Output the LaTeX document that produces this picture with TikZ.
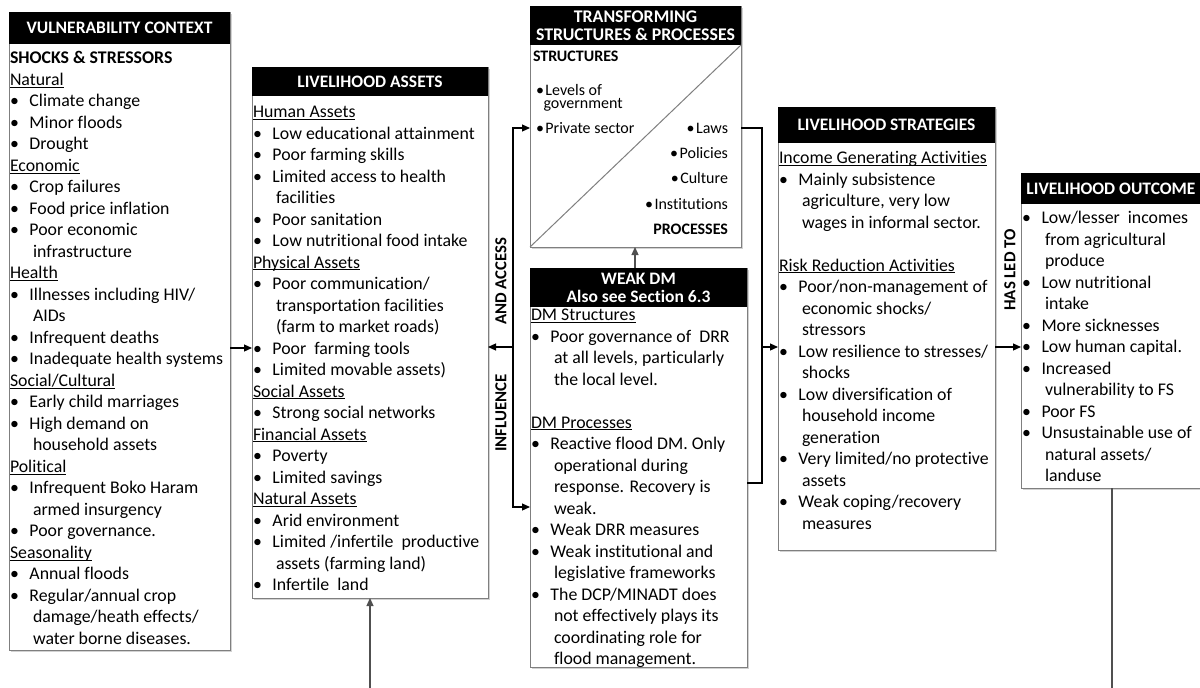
\documentclass[tikz,border=0pt]{standalone}
\usepackage{fontspec}
\setmainfont{Carlito}[Ligatures=NoCommon]
\usetikzlibrary{arrows.meta,shadows}
\definecolor{bordergray}{HTML}{7F7F7F}
\definecolor{linegray}{HTML}{505050}
\newcommand{\bodyfont}{\fontsize{17.8}{21.5}\selectfont}
\newcommand{\hdrfont}{\fontsize{17.5}{18}\selectfont\bfseries}
\newcommand{\midhdrfont}{\fontsize{17.8}{18}\selectfont\bfseries}
\newcommand{\smfont}{\fontsize{16}{13.5}\selectfont}
\newcommand{\lblfont}{\fontsize{16.8}{18}\selectfont\bfseries}
\newcommand{\uhd}[1]{\setbox0\hbox{#1}\rlap{\rule[-2.2pt]{\wd0}{0.8pt}}\box0}
\newcommand{\bitem}[1]{\makebox[19.5pt][l]{\textbullet}#1}
\newcommand{\citem}[1]{\hspace*{23pt}#1}
\begin{document}
\begin{tikzpicture}[x=1pt,y=-1pt,
  box/.style={draw=bordergray, line width=1pt, fill=white, inner sep=0pt, outer sep=0pt, anchor=north west,
    drop shadow={shadow xshift=2pt, shadow yshift=-2pt, fill=black!35, opacity=0.5}},
  hdr/.style={fill=black, text=white, inner sep=0pt, outer sep=0pt, anchor=north west, align=center, font=\hdrfont},
  body/.style={anchor=north west, inner sep=0pt, outer sep=0pt, align=left, font=\bodyfont},
  sm/.style={inner sep=0pt, outer sep=0pt, font=\smfont},
  lbl/.style={inner sep=0pt, rotate=90, font=\lblfont},
  arr/.style={-{Triangle[length=8pt,width=7pt]}, line width=1.2pt, black},
  darr/.style={{Triangle[length=8pt,width=7pt]}-{Triangle[length=8pt,width=7pt]}, line width=1.2pt, black},
  garr/.style={-{Triangle[length=8pt,width=7pt]}, line width=1.2pt, linegray},
  conn/.style={line width=1.2pt, black},
  gconn/.style={line width=1.2pt, linegray}]
\useasboundingbox (0,0) rectangle (1200,688);

% ---------- Vulnerability context ----------
\node[box, minimum width=221, minimum height=638] (vc) at (9,12) {};
\node[hdr, minimum width=221, minimum height=32] (vch) at (9,12) {VULNERABILITY CONTEXT};
\node[body] (vcb) at (10,48.6) {\strut\textbf{SHOCKS \& STRESSORS}\\
\uhd{Natural}\\
\bitem{Climate change}\\
\bitem{Minor floods}\\
\bitem{Drought}\\
\uhd{Economic}\\
\bitem{Crop failures}\\
\bitem{Food price inflation}\\
\bitem{Poor economic}\\
\citem{infrastructure}\\
\uhd{Health}\\
\bitem{Illnesses including HIV/}\\
\citem{AIDs}\\
\bitem{Infrequent deaths}\\
\bitem{Inadequate health systems}\\
\uhd{Social/Cultural}\\
\bitem{Early child marriages}\\
\bitem{High demand on}\\
\citem{household assets}\\
\uhd{Political}\\
\bitem{Infrequent Boko Haram}\\
\citem{armed insurgency}\\
\bitem{Poor governance.}\\
\uhd{Seasonality}\\
\bitem{Annual floods}\\
\bitem{Regular/annual crop}\\
\citem{damage/heath effects/}\\
\citem{water borne diseases.}};

% ---------- Livelihood assets ----------
\node[box, minimum width=236, minimum height=531] (la) at (252,67) {};
\node[hdr, minimum width=236, minimum height=29] (lah) at (252,67) {LIVELIHOOD ASSETS};
\node[body] (lab) at (253,102.5) {\strut\uhd{Human Assets}\\
\bitem{Low educational attainment}\\
\bitem{Poor farming skills}\\
\bitem{Limited access to health}\\
\citem{facilities}\\
\bitem{Poor sanitation}\\
\bitem{Low nutritional food intake}\\
\uhd{Physical Assets}\\
\bitem{Poor communication/}\\
\citem{transportation facilities}\\
\citem{(farm to market roads)}\\
\bitem{Poor~ farming tools}\\
\bitem{Limited movable assets)}\\
\uhd{Social Assets}\\
\bitem{Strong social networks}\\
\uhd{Financial Assets}\\
\bitem{Poverty}\\
\bitem{Limited savings}\\
\uhd{Natural Assets}\\
\bitem{Arid environment}\\
\bitem{Limited /infertile~ productive}\\
\citem{assets (farming land)}\\
\bitem{Infertile~ land}};

% ---------- Transforming structures & processes ----------
\node[box, minimum width=211, minimum height=241] (ts) at (530,6) {};
\node[hdr, minimum width=211, minimum height=39, font=\midhdrfont] (tsh) at (530,6) {TRANSFORMING\\STRUCTURES \& PROCESSES};
\draw[line width=1pt, bordergray] (ts.south west) -- (tsh.south east);
\node[sm, anchor=base west, font=\smfont\bfseries] (tss) at (533,61.5) {STRUCTURES};
\node[sm, anchor=north west, align=left] (tsl) at (536,83) {\rule{0pt}{12pt}\textbullet\hspace{1.5pt}Levels of\\\hspace*{7.5pt}government};
\node[sm, anchor=base west] (tsp) at (536,133.5) {\textbullet\hspace{1.5pt}Private sector};
\node[sm, anchor=base east] (tsa) at (728,133.5) {\textbullet\hspace{1.5pt}Laws};
\node[sm, anchor=base east] (tsb) at (728,158.5) {\textbullet\hspace{1.5pt}Policies};
\node[sm, anchor=base east] (tsc) at (728,183.5) {\textbullet\hspace{1.5pt}Culture};
\node[sm, anchor=base east] (tsd) at (728,209.5) {\textbullet\hspace{1.5pt}Institutions};
\node[sm, anchor=base east, font=\smfont\bfseries] (tse) at (728,234.5) {PROCESSES};

% ---------- Weak DM ----------
\node[box, minimum width=217, minimum height=399] (dm) at (530,268) {};
\node[hdr, minimum width=217, minimum height=39] (dmh) at (530,268) {WEAK DM\\Also see Section 6.3};
\node[body] (dmb) at (531,305.5) {\strut\uhd{DM Structures}\\
\bitem{Poor governance of~ DRR}\\
\citem{at all levels, particularly}\\
\citem{the local level.}\\
\mbox{}\\
\uhd{DM Processes}\\
\bitem{Reactive flood DM. Only}\\
\citem{operational during}\\
\citem{response. Recovery is}\\
\citem{weak.}\\
\bitem{Weak DRR measures}\\
\bitem{Weak institutional and}\\
\citem{legislative frameworks}\\
\bitem{The DCP/MINADT does}\\
\citem{not effectively plays its}\\
\citem{coordinating role for}\\
\citem{flood management.}};

% ---------- Livelihood strategies ----------
\node[box, minimum width=217, minimum height=443] (ls) at (778,107) {};
\node[hdr, minimum width=217, minimum height=36] (lsh) at (778,107) {LIVELIHOOD STRATEGIES};
\node[body] (lsb) at (779,148.5) {\strut\uhd{Income Generating Activities}\\
\bitem{Mainly subsistence}\\
\citem{agriculture, very low}\\
\citem{wages in informal sector.}\\
\mbox{}\\
\uhd{Risk Reduction Activities}\\
\bitem{Poor/non-management of}\\
\citem{economic shocks/}\\
\citem{stressors}\\
\bitem{Low resilience to stresses/}\\
\citem{shocks}\\
\bitem{Low diversification of}\\
\citem{household income}\\
\citem{generation}\\
\bitem{Very limited/no protective}\\
\citem{assets}\\
\bitem{Weak coping/recovery}\\
\citem{measures}};

% ---------- Livelihood outcome ----------
\node[box, minimum width=180, minimum height=315] (lo) at (1021,173) {};
\node[hdr, minimum width=180, minimum height=31] (loh) at (1021,173) {LIVELIHOOD OUTCOME};
\node[body] (lob) at (1022,208.5) {\strut\bitem{Low/lesser~ incomes}\\
\citem{from agricultural}\\
\citem{produce}\\
\bitem{Low nutritional}\\
\citem{intake}\\
\bitem{More sicknesses}\\
\bitem{Low human capital.}\\
\bitem{Increased}\\
\citem{vulnerability to FS}\\
\bitem{Poor FS}\\
\bitem{Unsustainable use of}\\
\citem{natural assets/}\\
\citem{landuse}};

% ---------- labels ----------
\node[lbl] (acc) at (501,281) {AND ACCESS};
\node[lbl] (inf) at (501,413) {INFLUENCE};
\node[lbl] (led) at (1010,270) {HAS LED TO};

% ---------- connectors ----------
\coordinate (b1) at (370,688);
\coordinate (it) at (513,128);
\coordinate (im) at (513,347);
\coordinate (ib) at (513,507);
\coordinate (rt) at (762,128);
\coordinate (rm) at (762,347);
\coordinate (rb) at (762,483);
\coordinate (dmx) at (635,0);
\coordinate (lox) at (1112,688);
\coordinate (y1) at (0,348);
\coordinate (y2) at (0,347);

\draw[arr] (vc.east |- y1) -- (la.west |- y1);
\draw[garr] (b1) -- (la.south);
\draw[darr] (ts.west |- it) -- (it) -- (ib) -- (dm.west |- ib);
\draw[arr] (im) -- (la.east |- im);
\draw[conn] (ts.east |- rt) -- (rt) -- (rb) -- (dm.east |- rb);
\draw[arr] (rm) -- (ls.west |- rm);
\draw[garr] (dm.north -| dmx) -- (ts.south -| dmx);
\draw[arr] (ls.east |- y2) -- (lo.west |- y2);
\draw[gconn] (lo.south -| lox) -- (lox);
\end{tikzpicture}
\end{document}
